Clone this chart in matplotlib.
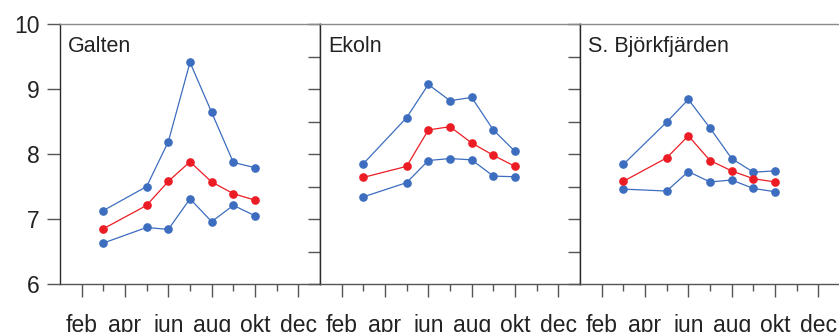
import matplotlib
matplotlib.use("Agg")
import matplotlib.pyplot as plt
from matplotlib.ticker import MultipleLocator, FixedLocator

plt.rcParams['font.family'] = ['Liberation Sans', 'DejaVu Sans']

months = [3, 5, 6, 7, 8, 9, 10]
month_ticks = [2, 4, 6, 8, 10, 12]
month_labels = ["feb", "apr", "jun", "aug", "okt", "dec"]
minor_months = [3, 5, 7, 9, 11]

lakes = ["Galten", "Ekoln", "S. Björkfjärden"]

galten_upper = [7.13, 7.50, 8.19, 9.41, 8.64, 7.87, 7.79]
galten_mean = [6.85, 7.21, 7.58, 7.88, 7.57, 7.39, 7.29]
galten_lower = [6.63, 6.87, 6.84, 7.31, 6.96, 7.21, 7.05]

ekoln_upper = [7.85, 8.56, 9.07, 8.82, 8.87, 8.37, 8.04]
ekoln_mean = [7.64, 7.81, 8.37, 8.42, 8.17, 7.98, 7.81]
ekoln_lower = [7.34, 7.56, 7.90, 7.93, 7.91, 7.66, 7.65]

bjork_upper = [7.84, 8.49, 8.84, 8.40, 7.93, 7.72, 7.74]
bjork_mean = [7.58, 7.94, 8.28, 7.90, 7.74, 7.62, 7.57]
bjork_lower = [7.46, 7.43, 7.73, 7.57, 7.60, 7.47, 7.42]

series = [
    (galten_upper, galten_mean, galten_lower),
    (ekoln_upper, ekoln_mean, ekoln_lower),
    (bjork_upper, bjork_mean, bjork_lower),
]

BLUE = "#3d6dbf"
RED = "#ec1c24"
W, H = 839, 332
fig = plt.figure(figsize=(W / 100, H / 100), dpi=100)

left0 = 60
pw = 260
top = 24
bottom = 284

for i, (name, (up, mid, lo)) in enumerate(zip(lakes, series)):
    x0 = left0 + i * pw
    ax = fig.add_axes([x0 / W, 1 - bottom / H, pw / W, (bottom - top) / H])
    ax.set_xlim(1, 13)
    ax.set_ylim(6, 10)
    for vals, col in ((up, BLUE), (lo, BLUE), (mid, RED)):
        ax.plot(months, vals, color=col, lw=0.9, marker="o", ms=5.2,
                mec=col, mfc=col, zorder=3)

    ax.spines['top'].set_color("#8a8a8a")
    ax.spines['bottom'].set_color("#555555")
    ax.spines['left'].set_color("#2a2a2a")
    ax.spines['right'].set_color("#2a2a2a")
    for s in ax.spines.values():
        s.set_linewidth(1.0)

    # x ticks: long at even months with labels, short at odd months
    ax.xaxis.set_major_locator(FixedLocator(month_ticks))
    ax.xaxis.set_minor_locator(FixedLocator(minor_months))
    ax.set_xticklabels(month_labels, fontsize=16.5, color="#222222")
    ax.tick_params(axis='x', which='major', direction='out', length=9.5,
                   width=1.0, color="#555555", pad=12)
    ax.tick_params(axis='x', which='minor', direction='out', length=5,
                   width=1.0, color="#555555")

    # y ticks: inward half-unit ticks on the right spine
    ax.yaxis.set_major_locator(MultipleLocator(0.5))
    ax.tick_params(axis='y', which='both', left=False, labelleft=False,
                   right=(i < 2), direction='in', length=9, width=1.0,
                   color="#555555")
    if i == 2:
        ax.spines['right'].set_visible(False)

    ax.text(8 / pw, 1 - 12 / (bottom - top), name, transform=ax.transAxes,
            ha="left", va="top", fontsize=15.5, color="#222222")

    if i == 0:
        # integer labels on the outer left side
        axl = ax.secondary_yaxis('left')
        axl.set_yticks([6, 7, 8, 9, 10])
        axl.spines['left'].set_visible(False)
        axl.tick_params(axis='y', direction='out', length=9.5, width=1.0,
                        color="#555555", labelsize=16.5, labelcolor="#222222",
                        pad=5)

fig.savefig("out.png", dpi=100)
